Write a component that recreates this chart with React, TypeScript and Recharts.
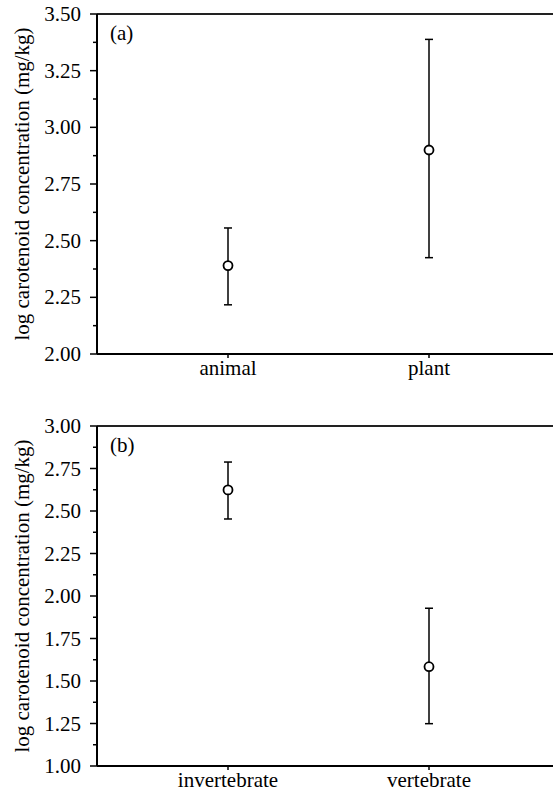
import { ComposedChart, Line, ErrorBar, XAxis, YAxis, ReferenceLine, Label } from "recharts";

// Two stacked panels: mean log carotenoid concentration with asymmetric error bars.

const FONT = '"Liberation Serif", "Times New Roman", serif';
const FS = 21;

const DIET_CATS = ["animal", "plant"];
const DIET_MEAN = [2.39, 2.9];
const DIET_LOW = [2.217, 2.425];
const DIET_HIGH = [2.556, 3.388];
const DIET_TICKS = [2, 2.125, 2.25, 2.375, 2.5, 2.625, 2.75, 2.875, 3, 3.125, 3.25, 3.375, 3.5];

const PREY_CATS = ["invertebrate", "vertebrate"];
const PREY_MEAN = [2.624, 1.584];
const PREY_LOW = [2.453, 1.249];
const PREY_HIGH = [2.788, 1.928];
const PREY_TICKS = [
  1, 1.125, 1.25, 1.375, 1.5, 1.625, 1.75, 1.875, 2, 2.125, 2.25, 2.375, 2.5, 2.625, 2.75, 2.875, 3,
];

const Y_TITLE = "log carotenoid concentration (mg/kg)";

// labelled ticks every 0.25, short unlabelled ones halfway between
function YTick(props: any) {
  const { x, y, payload } = props;
  const v = payload.value as number;
  const major = Math.abs(v * 4 - Math.round(v * 4)) < 1e-6;
  return (
    <g>
      <line x1={x - (major ? 7 : 4)} x2={x} y1={y} y2={y} stroke="#000" strokeWidth={1.5} />
      {major && (
        <text x={x - 16} y={y} dy="0.34em" textAnchor="end" fontFamily={FONT} fontSize={FS} fill="#000">
          {v.toFixed(2)}
        </text>
      )}
    </g>
  );
}

type PanelProps = {
  tag: string;
  cats: string[];
  mean: number[];
  low: number[];
  high: number[];
  ticks: number[];
  height: number;
  top: number;
  bottom: number;
};

function Panel({ tag, cats, mean, low, high, ticks, height, top, bottom }: PanelProps) {
  const data = cats.map((name, i) => ({
    name,
    mean: mean[i],
    err: [mean[i] - low[i], high[i] - mean[i]],
  }));
  const lo = ticks[0];
  const hi = ticks[ticks.length - 1];
  return (
    <ComposedChart width={553} height={height} data={data} margin={{ top, right: 0, bottom, left: 0 }}>
      <XAxis
        dataKey="name"
        scale="point"
        padding={{ left: 131, right: 124 }}
        height={28}
        tickSize={4}
        tickMargin={2}
        axisLine={{ stroke: "#000", strokeWidth: 2 }}
        tickLine={{ stroke: "#000", strokeWidth: 1.5 }}
        tick={{ fontFamily: FONT, fontSize: FS, fill: "#000" }}
      />
      <YAxis
        type="number"
        domain={[lo, hi]}
        ticks={ticks}
        interval={0}
        width={97}
        tickSize={0}
        tickMargin={0}
        tickLine={false}
        axisLine={{ stroke: "#000", strokeWidth: 2 }}
        tick={<YTick />}
      >
        <Label
          content={(p: any) => {
            const vb = p.viewBox;
            const cx = vb.x + 22;
            const cy = vb.y + vb.height / 2;
            return (
              <text
                x={cx}
                y={cy}
                textAnchor="middle"
                dominantBaseline="central"
                transform={`rotate(-90, ${cx}, ${cy})`}
                fontFamily={FONT}
                fontSize={FS}
                fill="#000"
              >
                {Y_TITLE}
              </text>
            );
          }}
        />
        <Label
          content={(p: any) => {
            const vb = p.viewBox;
            return (
              <text x={vb.x + vb.width + 13} y={vb.y + 26} fontFamily={FONT} fontSize={FS} fill="#000">
                {tag}
              </text>
            );
          }}
        />
      </YAxis>
      <ReferenceLine y={hi} stroke="#222" strokeWidth={2} />
      <Line
        dataKey="mean"
        stroke="transparent"
        isAnimationActive={false}
        dot={{ r: 4.5, fill: "#fff", stroke: "#000", strokeWidth: 1.8 }}
        activeDot={false}
      >
        <ErrorBar dataKey="err" direction="y" width={4} stroke="#000" strokeWidth={1.5} />
      </Line>
    </ComposedChart>
  );
}

export default function App() {
  return (
    <>
      <style>{"html, body { margin: 0; overflow: hidden; }"}</style>
      <div
        style={{
          position: "absolute",
          left: 0,
          top: 0,
          width: 555,
          height: 794,
          background: "#fff",
        }}
      >
        <Panel
          tag="(a)"
          cats={DIET_CATS}
          mean={DIET_MEAN}
          low={DIET_LOW}
          high={DIET_HIGH}
          ticks={DIET_TICKS}
          height={397}
          top={14}
          bottom={15}
        />
        <Panel
          tag="(b)"
          cats={PREY_CATS}
          mean={PREY_MEAN}
          low={PREY_LOW}
          high={PREY_HIGH}
          ticks={PREY_TICKS}
          height={397}
          top={29}
          bottom={0}
        />
      </div>
    </>
  );
}
